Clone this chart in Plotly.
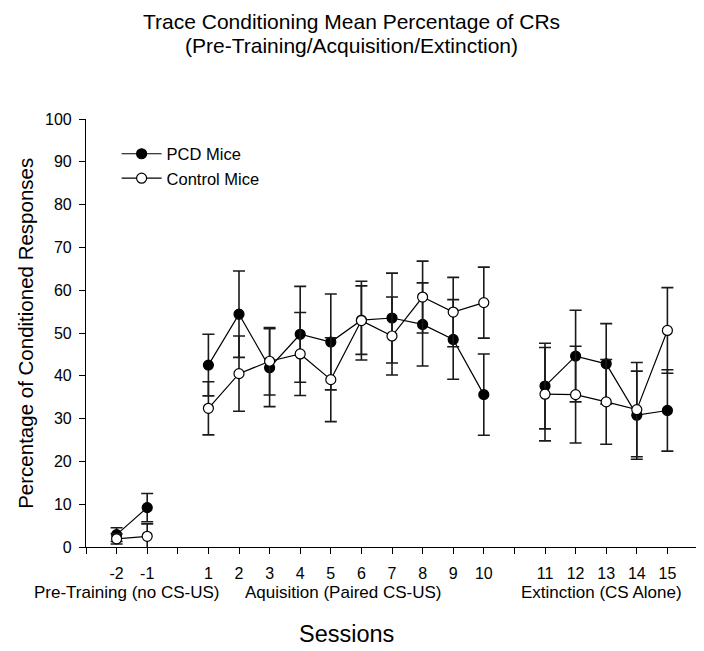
import plotly.graph_objects as go

# ---- data ----
session_labels = ["-2", "-1", "1", "2", "3", "4", "5", "6", "7", "8", "9", "10",
                  "11", "12", "13", "14", "15"]
session_phase = ["pre", "pre"] + ["acq"] * 10 + ["ext"] * 5

pcd_mean = [2.9, 9.2, 42.5, 54.4, 41.9, 49.7, 47.9, 53.0, 53.5, 52.0, 48.5, 35.6,
            37.6, 44.6, 42.8, 30.8, 31.9]
pcd_se = [1.6, 3.3, 7.2, 10.1, 9.1, 11.2, 11.2, 8.0, 10.5, 9.7, 9.3, 9.5,
          10.0, 10.7, 9.4, 10.3, 9.5]
ctrl_mean = [1.9, 2.5, 32.4, 40.5, 43.4, 45.1, 39.1, 52.9, 49.3, 58.4, 54.9, 57.1,
             35.7, 35.6, 33.9, 32.1, 50.6]
ctrl_se = [1.2, 2.9, 6.2, 8.8, 7.9, 9.7, 9.8, 9.2, 9.1, 8.4, 8.1, 8.3,
           10.9, 11.3, 9.9, 11.0, 10.0]

phase_labels = ["Pre-Training (no CS-US)", "Aquisition (Paired CS-US)", "Extinction (CS Alone)"]
title_lines = ["Trace Conditioning Mean Percentage of CRs",
               "(Pre-Training/Acquisition/Extinction)"]

# ---- axis positions (phases separated by an empty slot) ----
phase_offset = {"pre": 0, "acq": 0, "ext": 1}
positions = [int(s) + phase_offset[p] for s, p in zip(session_labels, session_phase)]


def with_gaps(vals):
    xs, ys = [], []
    prev = None
    for pos, v, ph in zip(positions, vals, session_phase):
        if prev is not None and ph != prev:
            xs.append(None)
            ys.append(None)
        xs.append(pos)
        ys.append(v)
        prev = ph
    return xs, ys


def err_with_gaps(vals):
    out = []
    prev = None
    for v, ph in zip(vals, session_phase):
        if prev is not None and ph != prev:
            out.append(None)
        out.append(v)
        prev = ph
    return out


tick_positions = list(range(min(positions) - 1, max(positions) + 2))
tick_text = [session_labels[positions.index(t)] if t in positions else "" for t in tick_positions]

FONT = "Arial, Liberation Sans, Helvetica, sans-serif"

fig = go.Figure()

for name, mean, se, fill in [("PCD Mice", pcd_mean, pcd_se, "black"),
                             ("Control Mice", ctrl_mean, ctrl_se, "white")]:
    xs, ys = with_gaps(mean)
    fig.add_trace(go.Scatter(
        x=xs, y=ys, name=name, mode="lines+markers",
        line=dict(color="black", width=1.2),
        marker=dict(size=10, color=fill, line=dict(color="black", width=1.2)),
        error_y=dict(type="data", array=err_with_gaps(se), visible=True,
                     color="#1a1a1a", thickness=1.6, width=6),
        connectgaps=False, cliponaxis=False,
    ))

fig.update_layout(
    width=704, height=651,
    margin=dict(l=78, r=14, t=111, b=112),
    paper_bgcolor="white", plot_bgcolor="white",
    font=dict(family=FONT, color="black", size=16),
    showlegend=True,
    legend=dict(x=0.05, y=0.959, xanchor="left", yanchor="top", itemwidth=40,
                bgcolor="rgba(0,0,0,0)", font=dict(size=16.5), tracegroupgap=0),
)

fig.update_xaxes(
    range=[tick_positions[0], tick_positions[-1]],
    tickmode="array", tickvals=tick_positions, ticktext=tick_text,
    showline=True, linecolor="black", linewidth=1.2,
    ticks="outside", ticklen=6, tickcolor="black", tickwidth=1.2,
    showgrid=False, zeroline=False, ticklabelstandoff=6,
    tickfont=dict(size=16),
)
fig.update_yaxes(
    range=[0, 100], tickmode="linear", tick0=0, dtick=10,
    showline=True, linecolor="black", linewidth=1.2,
    ticks="outside", ticklen=6, tickcolor="black", tickwidth=1.2,
    showgrid=False, zeroline=False, ticklabelstandoff=4,
    tickfont=dict(size=16),
)

# two-line title
for line, ypos in zip(title_lines, [1.228, 1.172]):
    fig.add_annotation(text=line, x=0.4346, xref="paper", y=ypos, yref="paper",
                       showarrow=False, font=dict(size=21), xanchor="center", yanchor="middle")

# phase labels under the axis
phase_centers = {"pre": -1.67, "acq": 5.43, "ext": 13.86}
for lab, ph in zip(phase_labels, ["pre", "acq", "ext"]):
    fig.add_annotation(text=lab, x=phase_centers[ph], xref="x", y=-0.106, yref="paper",
                       showarrow=False, font=dict(size=17), xanchor="center", yanchor="middle")

fig.add_annotation(text="Sessions", x=0.425, xref="paper", y=-0.204, yref="paper",
                   showarrow=False, font=dict(size=23.5), xanchor="center", yanchor="middle")
fig.add_annotation(text="Percentage of Conditioned Responses", x=-0.1, xref="paper",
                   y=0.5, yref="paper", textangle=-90, showarrow=False,
                   font=dict(size=20.5), xanchor="center", yanchor="middle")

fig.write_html("out.html")
